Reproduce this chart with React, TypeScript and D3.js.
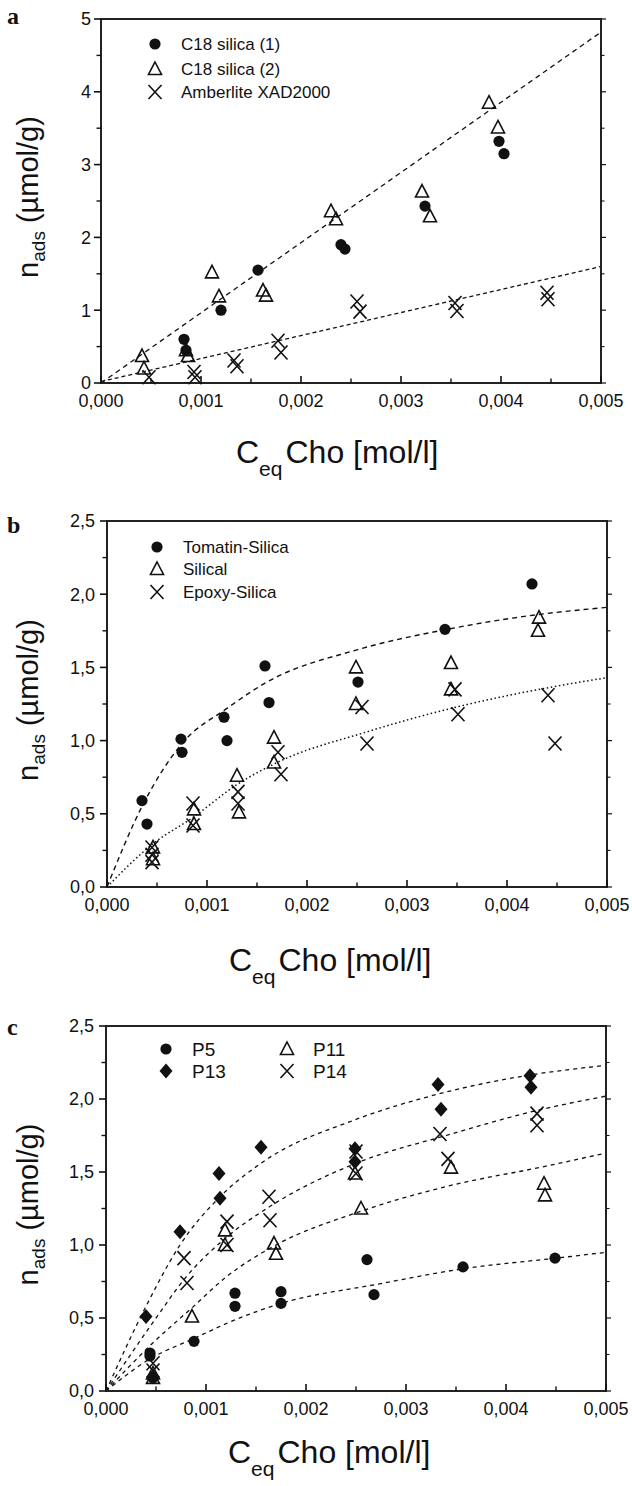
import * as d3 from "d3";

type Pt = [number, number];

// ---------- panel a ----------
const aC18one: Pt[] = [
  [0.00083, 0.6], [0.00085, 0.45], [0.0012, 1.0], [0.00157, 1.55], [0.0024, 1.9],
  [0.00244, 1.84], [0.00324, 2.43], [0.00398, 3.32], [0.00403, 3.15],
];
const aC18two: Pt[] = [
  [0.00041, 0.37], [0.00043, 0.2], [0.00087, 0.37], [0.00085, 0.45], [0.00111, 1.52],
  [0.00118, 1.19], [0.00162, 1.27], [0.00165, 1.2], [0.0023, 2.36], [0.00235, 2.25],
  [0.00321, 2.63], [0.00329, 2.29], [0.00388, 3.85], [0.00397, 3.51],
];
const aAmberlite: Pt[] = [
  [0.00048, 0.08], [0.00093, 0.15], [0.00094, 0.08], [0.00133, 0.31], [0.00136, 0.23],
  [0.00177, 0.58], [0.0018, 0.42], [0.00256, 1.12], [0.00259, 0.98], [0.00354, 1.1],
  [0.00356, 0.99], [0.00446, 1.24], [0.00447, 1.15],
];
const aFitC18: Pt[] = [[0, 0], [0.005, 4.82]];
const aFitAmberlite: Pt[] = [[0, 0.02], [0.005, 1.6]];

// ---------- panel b ----------
const bTomatin: Pt[] = [
  [0.00035, 0.59], [0.0004, 0.43], [0.00074, 1.01], [0.00075, 0.92], [0.00117, 1.16],
  [0.0012, 1.0], [0.00158, 1.51], [0.00162, 1.26], [0.00251, 1.4], [0.00338, 1.76],
  [0.00425, 2.07],
];
const bSilical: Pt[] = [
  [0.00046, 0.27], [0.00046, 0.19], [0.00087, 0.53], [0.00087, 0.43], [0.0013, 0.76],
  [0.00132, 0.51], [0.00167, 1.02], [0.00167, 0.85], [0.00249, 1.5], [0.00249, 1.25],
  [0.00344, 1.53], [0.00344, 1.35], [0.00432, 1.84], [0.00431, 1.75],
];
const bEpoxy: Pt[] = [
  [0.00045, 0.27], [0.00045, 0.22], [0.00045, 0.17], [0.00086, 0.57], [0.00086, 0.42],
  [0.00131, 0.65], [0.00131, 0.57], [0.00171, 0.92], [0.00174, 0.77], [0.00255, 1.23],
  [0.0026, 0.98], [0.00348, 1.35], [0.00351, 1.18], [0.00441, 1.31], [0.00448, 0.98],
];
const bFitTomatin: Pt[] = [
  [0, 0], [0.00035, 0.55], [0.00075, 0.98], [0.0012, 1.22], [0.0016, 1.4],
  [0.0025, 1.62], [0.0034, 1.76], [0.0043, 1.86], [0.005, 1.91],
];
const bFitEpoxy: Pt[] = [
  [0, 0], [0.00045, 0.29], [0.00087, 0.48], [0.0013, 0.7], [0.0017, 0.85],
  [0.0026, 1.06], [0.0035, 1.23], [0.0044, 1.36], [0.005, 1.43],
];

// ---------- panel c ----------
const cP5: Pt[] = [
  [0.00044, 0.26], [0.00044, 0.24], [0.00047, 0.09], [0.00088, 0.34], [0.00129, 0.67],
  [0.00129, 0.58], [0.00175, 0.68], [0.00175, 0.6], [0.00261, 0.9], [0.00268, 0.66],
  [0.00357, 0.85], [0.00449, 0.91],
];
const cP13: Pt[] = [
  [0.0004, 0.51], [0.00074, 1.09], [0.00113, 1.49], [0.00114, 1.32], [0.00155, 1.67],
  [0.00249, 1.66], [0.00249, 1.57], [0.00332, 2.1], [0.00335, 1.93], [0.00424, 2.16],
  [0.00425, 2.08],
];
const cP11: Pt[] = [
  [0.00047, 0.12], [0.00047, 0.09], [0.00086, 0.51], [0.00119, 1.1], [0.00119, 1.0],
  [0.00168, 1.01], [0.0017, 0.94], [0.00249, 1.49], [0.00255, 1.25], [0.00345, 1.53],
  [0.00438, 1.42], [0.00439, 1.34],
];
const cP14: Pt[] = [
  [0.00047, 0.19], [0.00047, 0.14], [0.00078, 0.91], [0.00081, 0.74], [0.00121, 1.16],
  [0.00121, 1.0], [0.00163, 1.33], [0.00164, 1.17], [0.0025, 1.64], [0.0025, 1.49],
  [0.00334, 1.76], [0.00342, 1.59], [0.00431, 1.9], [0.00431, 1.82],
];
const cFitP13: Pt[] = [
  [0, 0], [0.0004, 0.58], [0.00074, 1.0], [0.00114, 1.33], [0.00155, 1.56],
  [0.0025, 1.86], [0.0033, 2.03], [0.0042, 2.16], [0.005, 2.23],
];
const cFitP14: Pt[] = [
  [0, 0], [0.00047, 0.47], [0.0008, 0.78], [0.0012, 1.05], [0.00163, 1.26],
  [0.0025, 1.56], [0.0034, 1.75], [0.0043, 1.92], [0.005, 2.02],
];
const cFitP11: Pt[] = [
  [0, 0], [0.00047, 0.33], [0.00086, 0.57], [0.0012, 0.78], [0.0017, 1.0],
  [0.0025, 1.22], [0.0034, 1.4], [0.0044, 1.54], [0.005, 1.63],
];
const cFitP5: Pt[] = [
  [0, 0], [0.00044, 0.22], [0.00088, 0.36], [0.0013, 0.49], [0.00175, 0.6],
  [0.0027, 0.73], [0.0036, 0.84], [0.0045, 0.91], [0.005, 0.95],
];

// ---------- ticks ----------
const xMajor = [0, 0.001, 0.002, 0.003, 0.004, 0.005];
const xMinor = [0.0005, 0.0015, 0.0025, 0.0035, 0.0045];
const yMajorA = [0, 1, 2, 3, 4, 5];
const yMinorA = [0.5, 1.5, 2.5, 3.5, 4.5];
const yMajorBC = [0, 0.5, 1, 1.5, 2, 2.5];
const yMinorBC = [0.25, 0.75, 1.25, 1.75, 2.25];

const FONT = "'Liberation Sans', Arial, Helvetica, sans-serif";
const INK = "#111";

type Marker = "circle" | "triangle" | "cross" | "diamond";

function Mark({ kind, x, y }: { kind: Marker; x: number; y: number }) {
  if (kind === "circle") return <circle cx={x} cy={y} r={5.6} fill={INK} />;
  if (kind === "diamond")
    return <path transform={`translate(${x},${y})`} d="M0,-7.5L6.5,0L0,7.5L-6.5,0Z" fill={INK} />;
  if (kind === "triangle")
    return (
      <path transform={`translate(${x},${y})`} d="M0,-7L6.5,5.5L-6.5,5.5Z" fill="none"
        stroke={INK} strokeWidth={1.6} strokeLinejoin="miter" />
    );
  return (
    <path transform={`translate(${x},${y})`} d="M-6.5,-7L6.5,7M6.5,-7L-6.5,7" fill="none"
      stroke={INK} strokeWidth={1.6} />
  );
}

type Series = { data: Pt[]; marker: Marker };
type Fit = { data: Pt[]; dash: string; width: number };
type LegendItem = { label: string; marker: Marker; x: number; y: number };

type PanelProps = {
  letter: string;
  letterY: number;
  left: number; right: number; top: number; bottom: number;
  yMax: number;
  yMajor: number[]; yMinor: number[];
  yFmt: (v: number) => string;
  yLabelGap: number;
  xLabelDy: number;
  titleX: number; titleY: number;
  series: Series[];
  fits: Fit[];
  legend: LegendItem[];
  legendFont: number;
};

const comma = (f: (v: number) => string) => (v: number) => f(v).replace(".", ",");
const fmtX = comma(d3.format(".3f"));

function Panel(p: PanelProps) {
  const x = d3.scaleLinear().domain([0, 0.005]).range([p.left, p.right]);
  const y = d3.scaleLinear().domain([0, p.yMax]).range([p.bottom, p.top]);
  const line = d3.line<Pt>().x((d) => x(d[0])).y((d) => y(d[1])).curve(d3.curveMonotoneX);
  const midY = (p.top + p.bottom) / 2;

  return (
    <g fontFamily={FONT} fill={INK}>
      <text x={7} y={p.letterY} fontFamily="'Liberation Serif', 'Times New Roman', serif"
        fontWeight="bold" fontSize={24}>{p.letter}</text>

      {/* fitted curves */}
      {p.fits.map((f, i) => (
        <path key={i} d={line(f.data) ?? ""} fill="none" stroke={INK} strokeWidth={f.width}
          strokeDasharray={f.dash} />
      ))}

      {/* frame */}
      <rect x={p.left} y={p.top} width={p.right - p.left} height={p.bottom - p.top}
        fill="none" stroke="#222" strokeWidth={2} />

      {/* x ticks, inward */}
      {xMajor.map((t) => (
        <g key={"xM" + t}>
          <line x1={x(t)} x2={x(t)} y1={p.bottom} y2={p.bottom - 7} stroke={INK} strokeWidth={1.6} />
          <text x={x(t)} y={p.bottom + p.xLabelDy} textAnchor="middle" fontSize={18}>{fmtX(t)}</text>
        </g>
      ))}
      {xMinor.map((t) => (
        <line key={"xm" + t} x1={x(t)} x2={x(t)} y1={p.bottom} y2={p.bottom - 4.5}
          stroke={INK} strokeWidth={1.4} />
      ))}

      {/* y ticks, outward */}
      {p.yMajor.map((t) => (
        <g key={"yM" + t}>
          <line x1={p.left - 7} x2={p.left} y1={y(t)} y2={y(t)} stroke={INK} strokeWidth={1.6} />
          <line x1={p.right} x2={p.right + 5} y1={y(t)} y2={y(t)} stroke={INK} strokeWidth={1.2} />
          <text x={p.left - p.yLabelGap} y={y(t)} dy="0.36em" textAnchor="end" fontSize={18}>{p.yFmt(t)}</text>
        </g>
      ))}
      {p.yMinor.map((t) => (
        <g key={"ym" + t}>
          <line x1={p.left - 4.5} x2={p.left} y1={y(t)} y2={y(t)} stroke={INK} strokeWidth={1.4} />
          <line x1={p.right} x2={p.right + 3.5} y1={y(t)} y2={y(t)} stroke={INK} strokeWidth={1.1} />
        </g>
      ))}

      {/* data */}
      {p.series.map((s, i) => (
        <g key={i}>
          {s.data.map((d, j) => <Mark key={j} kind={s.marker} x={x(d[0])} y={y(d[1])} />)}
        </g>
      ))}

      {/* legend */}
      {p.legend.map((l) => (
        <g key={l.label}>
          <Mark kind={l.marker} x={l.x} y={l.y} />
          <text x={l.x + 26} y={l.y} dy="0.36em" fontSize={p.legendFont}>{l.label}</text>
        </g>
      ))}

      {/* axis titles */}
      <text transform={`translate(38,${midY - 4}) rotate(-90)`} textAnchor="middle" fontSize={29}>
        n<tspan fontSize={19} dy={7}>ads</tspan><tspan dy={-7}> (µmol/g)</tspan>
      </text>
      <text x={p.titleX} y={p.titleY} fontSize={32}>
        C<tspan fontSize={21} dx={0} dy={13}>eq</tspan>
        <tspan dx={3} dy={-13}>Cho [mol/l]</tspan>
      </text>
    </g>
  );
}

export default function App() {
  const fmtInt = d3.format("d");
  const fmt1 = comma(d3.format(".1f"));
  return (
    <svg width={632} height={1486} style={{ position: "absolute", left: 0, top: 0, background: "#fff" }}>
      <rect width={632} height={1486} fill="#fff" />
      <Panel
        letter="a" letterY={24}
        left={101} right={601} top={19} bottom={383}
        yMax={5} yMajor={yMajorA} yMinor={yMinorA} yFmt={fmtInt} yLabelGap={10}
        xLabelDy={24} titleX={236} titleY={463}
        series={[
          { data: aAmberlite, marker: "cross" },
          { data: aC18two, marker: "triangle" },
          { data: aC18one, marker: "circle" },
        ]}
        fits={[
          { data: aFitC18, dash: "5,4", width: 1.3 },
          { data: aFitAmberlite, dash: "4,3", width: 1.3 },
        ]}
        legend={[
          { label: "C18 silica (1)", marker: "circle", x: 155, y: 44 },
          { label: "C18 silica (2)", marker: "triangle", x: 155, y: 69 },
          { label: "Amberlite XAD2000", marker: "cross", x: 155, y: 92 },
        ]}
        legendFont={17}
      />
      <Panel
        letter="b" letterY={533}
        left={107} right={607} top={521} bottom={887}
        yMax={2.5} yMajor={yMajorBC} yMinor={yMinorBC} yFmt={fmt1} yLabelGap={12}
        xLabelDy={24} titleX={229} titleY={971}
        series={[
          { data: bEpoxy, marker: "cross" },
          { data: bSilical, marker: "triangle" },
          { data: bTomatin, marker: "circle" },
        ]}
        fits={[
          { data: bFitTomatin, dash: "5,4", width: 1.4 },
          { data: bFitEpoxy, dash: "1.5,2.6", width: 1.5 },
        ]}
        legend={[
          { label: "Tomatin-Silica", marker: "circle", x: 157, y: 547 },
          { label: "Silical", marker: "triangle", x: 157, y: 569 },
          { label: "Epoxy-Silica", marker: "cross", x: 157, y: 592 },
        ]}
        legendFont={17}
      />
      <Panel
        letter="c" letterY={1035}
        left={106} right={606} top={1026} bottom={1391}
        yMax={2.5} yMajor={yMajorBC} yMinor={yMinorBC} yFmt={fmt1} yLabelGap={12}
        xLabelDy={24} titleX={228} titleY={1463}
        series={[
          { data: cP14, marker: "cross" },
          { data: cP11, marker: "triangle" },
          { data: cP5, marker: "circle" },
          { data: cP13, marker: "diamond" },
        ]}
        fits={[
          { data: cFitP13, dash: "4,4", width: 1.3 },
          { data: cFitP14, dash: "4,4", width: 1.3 },
          { data: cFitP11, dash: "4,4", width: 1.3 },
          { data: cFitP5, dash: "4,4", width: 1.3 },
        ]}
        legend={[
          { label: "P5", marker: "circle", x: 166, y: 1049 },
          { label: "P13", marker: "diamond", x: 166, y: 1071 },
          { label: "P11", marker: "triangle", x: 287, y: 1049 },
          { label: "P14", marker: "cross", x: 287, y: 1071 },
        ]}
        legendFont={19}
      />
    </svg>
  );
}
